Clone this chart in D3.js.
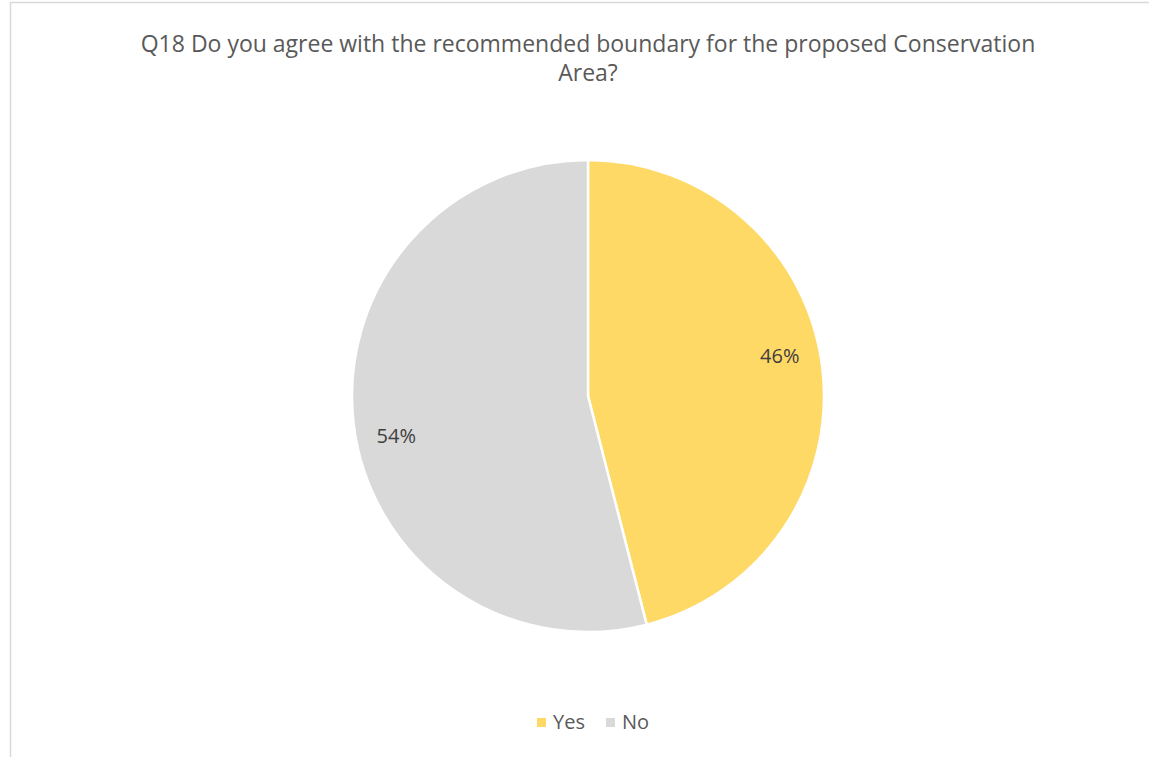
<!DOCTYPE html>
<html>
<head>
<meta charset="utf-8">
<script src="https://cdn.jsdelivr.net/npm/d3@7"></script>
<style>
  html, body { margin: 0; padding: 0; background: #fff; }
  svg { display: block; }
</style>
</head>
<body>
<svg id="chart" width="1149" height="757"></svg>
<script>
// Survey responses to Q18
const categories = ["Yes", "No"];
const values = [46, 54];
const colors = ["#FFD966", "#D9D9D9"];
const titleLines = [
  "Q18 Do you agree with the recommended boundary for the proposed Conservation",
  "Area?"
];

const svg = d3.select("#chart");
const W = 1149, H = 757;
const font = "'Open Sans', 'Noto Sans', sans-serif";

// chart frame (top and left edges visible)
svg.append("path")
  .attr("d", `M10.5,${H} V2.5 H${W}`)
  .attr("fill", "none")
  .attr("stroke", "#D9D9D9")
  .attr("stroke-width", 1.5);

// title
const title = svg.append("text")
  .attr("x", 588)
  .attr("text-anchor", "middle")
  .attr("font-family", font)
  .attr("font-size", 23)
  .attr("fill", "#595959");
titleLines.forEach((t, i) => {
  title.append("tspan").attr("x", 588).attr("y", 52 + i * 29).text(t);
});

// pie
const cx = 588, cy = 396, R = 236;
const total = d3.sum(values);
const pie = d3.pie().sort(null).value(d => d)(values);
const arc = d3.arc().innerRadius(0).outerRadius(R);
const labelR = R * 0.83;
const labelTilt = -0.08; // labels sit slightly counter-clockwise of slice middles

const g = svg.append("g").attr("transform", `translate(${cx},${cy})`);
g.selectAll("path.slice")
  .data(pie)
  .join("path")
  .attr("class", "slice")
  .attr("d", arc)
  .attr("fill", (d, i) => colors[i])
  .attr("stroke", "#fff")
  .attr("stroke-width", 2.5)
  .attr("stroke-linejoin", "round");

g.selectAll("text.lbl")
  .data(pie)
  .join("text")
  .attr("class", "lbl")
  .attr("transform", d => {
    const a = (d.startAngle + d.endAngle) / 2 + labelTilt;
    return `translate(${labelR * Math.sin(a)},${-labelR * Math.cos(a)})`;
  })
  .attr("text-anchor", "middle")
  .attr("dy", "0.35em")
  .attr("font-family", font)
  .attr("font-size", 20)
  .attr("fill", "#404040")
  .text(d => Math.round(d.data / total * 100) + "%");

// legend
const legend = svg.append("g").attr("transform", "translate(537,0)");
const items = legend.selectAll("g.item")
  .data(categories)
  .join("g")
  .attr("class", "item")
  .attr("transform", (d, i) => `translate(${i === 0 ? 0 : 69},0)`);
items.append("rect")
  .attr("x", 0).attr("y", 718)
  .attr("width", 9).attr("height", 9)
  .attr("fill", (d, i) => colors[i]);
items.append("text")
  .attr("x", 16).attr("y", 729)
  .attr("font-family", font)
  .attr("font-size", 20)
  .attr("fill", "#595959")
  .text(d => d);
</script>
</body>
</html>
